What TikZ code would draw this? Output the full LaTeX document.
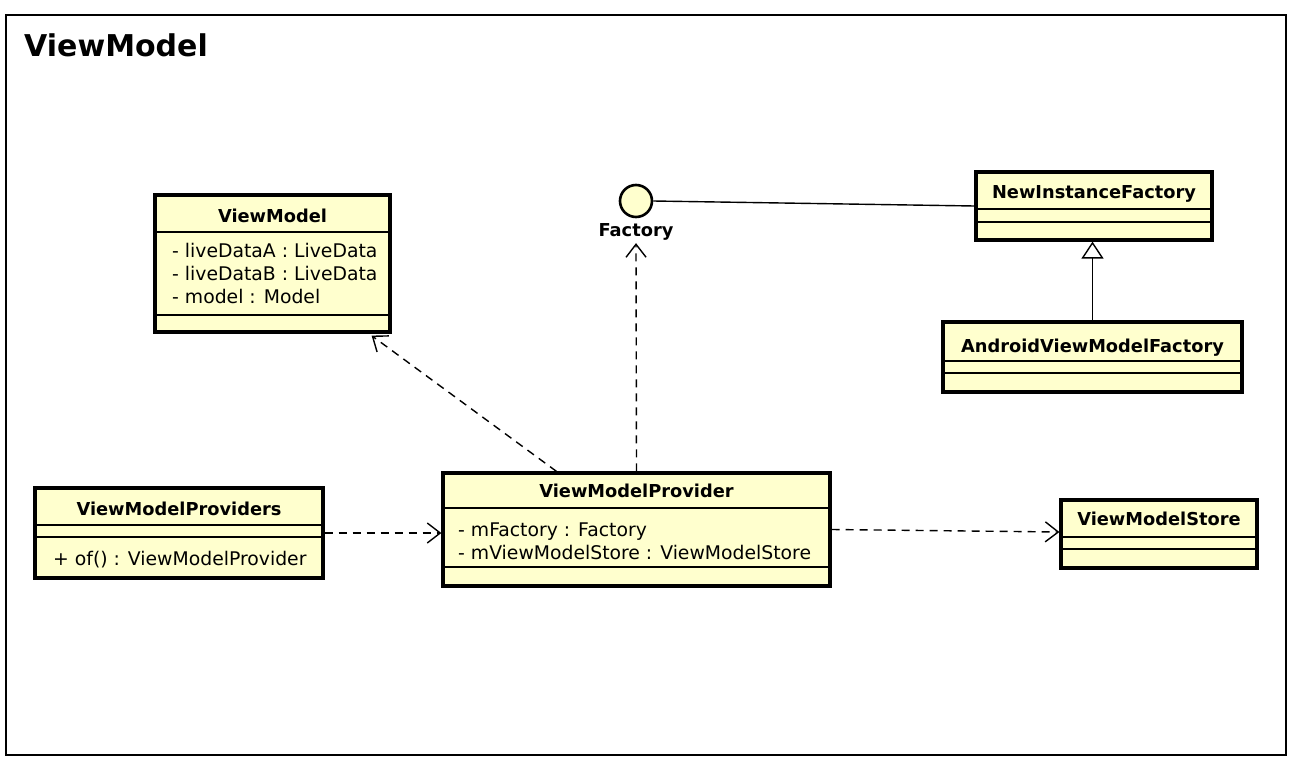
\documentclass[tikz,border=0pt]{standalone}
\usepackage{fontspec}
\setmainfont{DejaVu Sans}
\usetikzlibrary{arrows.meta,calc}
\definecolor{umlfill}{RGB}{255,255,206}
\begin{document}
\begin{tikzpicture}[x=1pt,y=-1pt,
  classbox/.style={draw, line width=3.2pt, fill=umlfill, inner sep=0pt, rectangle},
  sepline/.style={line width=1.5pt},
  hdr/.style={font=\fontsize{17.8}{21}\selectfont\bfseries, inner sep=0pt, anchor=base},
  attr/.style={font=\fontsize{18.8}{23}\selectfont, inner sep=0pt, anchor=base west},
  dep/.style={line width=1.4pt, dash pattern=on 8pt off 6pt, -{Straight Barb[length=13pt,width=20pt,line width=1.4pt]}},
  gen/.style={line width=1.4pt, -{Triangle[open,length=17pt,width=22pt,line width=1.4pt]}}]
\useasboundingbox (0,0) rectangle (1294,768);
\fill[white] (0,0) rectangle (1294,768);
\draw[line width=2.4pt] (6,15) rectangle (1286,755);
\node[font=\fontsize{30}{36}\selectfont\bfseries, inner sep=0pt, anchor=base west] (title) at (24,57) {ViewModel};

% ViewModel
\node[classbox, minimum width=235pt, minimum height=137pt] (vm) at (272.5,263.5) {};
\draw[sepline] (155,232) -- (390,232);
\draw[sepline] (155,315) -- (390,315);
\node[hdr] (vmh) at (272.5,222) {ViewModel};
\node[attr] (vma1) at (172,257) {- liveDataA : LiveData};
\node[attr] (vma2) at (172,280) {- liveDataB : LiveData};
\node[attr] (vma3) at (172,303) {- model : Model};

% NewInstanceFactory
\node[classbox, minimum width=236pt, minimum height=68pt] (nif) at (1094,206) {};
\draw[sepline] (976,209) -- (1212,209);
\draw[sepline] (976,222) -- (1212,222);
\node[hdr] (nifh) at (1094,198) {NewInstanceFactory};

% AndroidViewModelFactory
\node[classbox, minimum width=299pt, minimum height=70pt] (avmf) at (1092.5,357) {};
\draw[sepline] (943,361) -- (1242,361);
\draw[sepline] (943,373) -- (1242,373);
\node[hdr] (avmfh) at (1092.5,352) {AndroidViewModelFactory};

% ViewModelProviders
\node[classbox, minimum width=288pt, minimum height=90pt] (vmps) at (179,533) {};
\draw[sepline] (35,525) -- (323,525);
\draw[sepline] (35,537) -- (323,537);
\node[hdr] (vmpsh) at (179,515) {ViewModelProviders};
\node[attr] (vmpsm) at (53,565) {+ of() : ViewModelProvider};

% ViewModelProvider
\node[classbox, minimum width=387pt, minimum height=113pt] (vmp) at (636.5,529.5) {};
\draw[sepline] (443,508) -- (830,508);
\draw[sepline] (443,567) -- (830,567);
\node[hdr] (vmph) at (636.5,497) {ViewModelProvider};
\node[attr] (vmpa1) at (458,536) {- mFactory : Factory};
\node[attr] (vmpa2) at (458,559) {- mViewModelStore : ViewModelStore};

% ViewModelStore
\node[classbox, minimum width=196pt, minimum height=68pt] (vms) at (1159,534) {};
\draw[sepline] (1061,537) -- (1257,537);
\draw[sepline] (1061,549) -- (1257,549);
\node[hdr] (vmsh) at (1159,525) {ViewModelStore};

% Factory interface
\node[circle, draw, line width=2.6pt, fill=umlfill, minimum size=32pt, inner sep=0pt] (fac) at (636,201) {};
\node[font=\fontsize{17.8}{21}\selectfont\bfseries, inner sep=2.5pt] (faclbl) at (636,232) {Factory};

% connectors
\draw[line width=1.4pt] (fac.east) -- (nif.west);
\draw[gen] (avmf.north) -- (avmf.north |- nif.south);
\draw[dep] (vmps.east) -- (vmps.east -| vmp.west);
\draw[dep] (vmp.east) -- ([yshift=2pt]vms.west);
\draw[dep] ([xshift=-80pt]vmp.north) -- ([xshift=-20pt,yshift=-2pt]vm.south east);
\draw[dep] (vmp.north) -- (faclbl.south);
\end{tikzpicture}
\end{document}
